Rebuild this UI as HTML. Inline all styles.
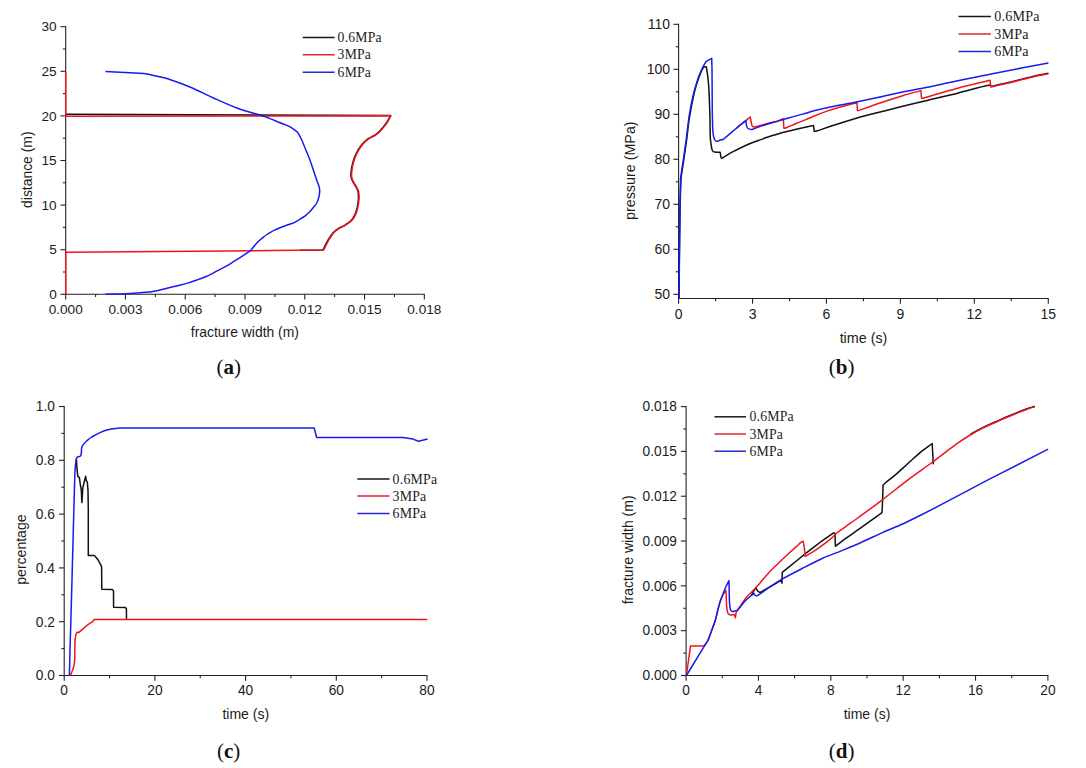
<!DOCTYPE html>
<html><head><meta charset="utf-8"><title>Figure</title>
<style>
html,body{margin:0;padding:0;background:#fff;}
body{width:1086px;height:768px;overflow:hidden;font-family:"Liberation Sans", sans-serif;}
svg{display:block;}
</style></head>
<body>
<svg width="1086" height="768" viewBox="0 0 1086 768">
<rect x="0" y="0" width="1086" height="768" fill="#ffffff"/>
<line x1="65.70" y1="294.30" x2="424.87" y2="294.30" stroke="#222222" stroke-width="1.1"/>
<line x1="65.70" y1="26.15" x2="65.70" y2="294.85" stroke="#222222" stroke-width="1.1"/>
<line x1="65.70" y1="294.30" x2="65.70" y2="299.50" stroke="#222222" stroke-width="1.1"/>
<line x1="125.47" y1="294.30" x2="125.47" y2="299.50" stroke="#222222" stroke-width="1.1"/>
<line x1="185.24" y1="294.30" x2="185.24" y2="299.50" stroke="#222222" stroke-width="1.1"/>
<line x1="245.01" y1="294.30" x2="245.01" y2="299.50" stroke="#222222" stroke-width="1.1"/>
<line x1="304.78" y1="294.30" x2="304.78" y2="299.50" stroke="#222222" stroke-width="1.1"/>
<line x1="364.55" y1="294.30" x2="364.55" y2="299.50" stroke="#222222" stroke-width="1.1"/>
<line x1="424.32" y1="294.30" x2="424.32" y2="299.50" stroke="#222222" stroke-width="1.1"/>
<line x1="95.59" y1="294.30" x2="95.59" y2="297.10" stroke="#222222" stroke-width="1.1"/>
<line x1="155.36" y1="294.30" x2="155.36" y2="297.10" stroke="#222222" stroke-width="1.1"/>
<line x1="215.12" y1="294.30" x2="215.12" y2="297.10" stroke="#222222" stroke-width="1.1"/>
<line x1="274.90" y1="294.30" x2="274.90" y2="297.10" stroke="#222222" stroke-width="1.1"/>
<line x1="334.67" y1="294.30" x2="334.67" y2="297.10" stroke="#222222" stroke-width="1.1"/>
<line x1="394.44" y1="294.30" x2="394.44" y2="297.10" stroke="#222222" stroke-width="1.1"/>
<line x1="60.50" y1="294.30" x2="65.70" y2="294.30" stroke="#222222" stroke-width="1.1"/>
<line x1="60.50" y1="249.70" x2="65.70" y2="249.70" stroke="#222222" stroke-width="1.1"/>
<line x1="60.50" y1="205.10" x2="65.70" y2="205.10" stroke="#222222" stroke-width="1.1"/>
<line x1="60.50" y1="160.50" x2="65.70" y2="160.50" stroke="#222222" stroke-width="1.1"/>
<line x1="60.50" y1="115.90" x2="65.70" y2="115.90" stroke="#222222" stroke-width="1.1"/>
<line x1="60.50" y1="71.30" x2="65.70" y2="71.30" stroke="#222222" stroke-width="1.1"/>
<line x1="60.50" y1="26.70" x2="65.70" y2="26.70" stroke="#222222" stroke-width="1.1"/>
<line x1="62.90" y1="272.00" x2="65.70" y2="272.00" stroke="#222222" stroke-width="1.1"/>
<line x1="62.90" y1="227.40" x2="65.70" y2="227.40" stroke="#222222" stroke-width="1.1"/>
<line x1="62.90" y1="182.80" x2="65.70" y2="182.80" stroke="#222222" stroke-width="1.1"/>
<line x1="62.90" y1="138.20" x2="65.70" y2="138.20" stroke="#222222" stroke-width="1.1"/>
<line x1="62.90" y1="93.60" x2="65.70" y2="93.60" stroke="#222222" stroke-width="1.1"/>
<line x1="62.90" y1="49.00" x2="65.70" y2="49.00" stroke="#222222" stroke-width="1.1"/>
<text x="65.70" y="313.80" font-family='"Liberation Sans", sans-serif' font-size="13.6" text-anchor="middle" fill="#1c1c1c" >0.000</text>
<text x="125.47" y="313.80" font-family='"Liberation Sans", sans-serif' font-size="13.6" text-anchor="middle" fill="#1c1c1c" >0.003</text>
<text x="185.24" y="313.80" font-family='"Liberation Sans", sans-serif' font-size="13.6" text-anchor="middle" fill="#1c1c1c" >0.006</text>
<text x="245.01" y="313.80" font-family='"Liberation Sans", sans-serif' font-size="13.6" text-anchor="middle" fill="#1c1c1c" >0.009</text>
<text x="304.78" y="313.80" font-family='"Liberation Sans", sans-serif' font-size="13.6" text-anchor="middle" fill="#1c1c1c" >0.012</text>
<text x="364.55" y="313.80" font-family='"Liberation Sans", sans-serif' font-size="13.6" text-anchor="middle" fill="#1c1c1c" >0.015</text>
<text x="424.32" y="313.80" font-family='"Liberation Sans", sans-serif' font-size="13.6" text-anchor="middle" fill="#1c1c1c" >0.018</text>
<text x="56.70" y="299.05" font-family='"Liberation Sans", sans-serif' font-size="13.6" text-anchor="end" fill="#1c1c1c" >0</text>
<text x="56.70" y="254.45" font-family='"Liberation Sans", sans-serif' font-size="13.6" text-anchor="end" fill="#1c1c1c" >5</text>
<text x="56.70" y="209.85" font-family='"Liberation Sans", sans-serif' font-size="13.6" text-anchor="end" fill="#1c1c1c" >10</text>
<text x="56.70" y="165.25" font-family='"Liberation Sans", sans-serif' font-size="13.6" text-anchor="end" fill="#1c1c1c" >15</text>
<text x="56.70" y="120.65" font-family='"Liberation Sans", sans-serif' font-size="13.6" text-anchor="end" fill="#1c1c1c" >20</text>
<text x="56.70" y="76.05" font-family='"Liberation Sans", sans-serif' font-size="13.6" text-anchor="end" fill="#1c1c1c" >25</text>
<text x="56.70" y="31.45" font-family='"Liberation Sans", sans-serif' font-size="13.6" text-anchor="end" fill="#1c1c1c" >30</text>
<text x="244.90" y="337.00" font-family='"Liberation Sans", sans-serif' font-size="13.9" text-anchor="middle" fill="#1c1c1c" >fracture width (m)</text>
<text x="31.90" y="169.70" font-family='"Liberation Sans", sans-serif' font-size="13.9" text-anchor="middle" fill="#1c1c1c" transform="rotate(-90 31.90 169.70)">distance (m)</text>
<path d="M65.7,114.2L390.6,115.6C389.1,118.1 387.9,120.8 386.2,123.2C384.3,125.9 382.2,128.3 380.0,130.7C378.5,132.3 376.8,133.8 374.9,135.1C372.5,136.8 369.5,137.6 367.2,139.4C364.9,141.2 362.8,143.4 361.0,145.7C359.0,148.2 357.4,151.0 356.0,153.9C354.7,156.7 353.6,159.6 352.8,162.6C352.0,165.5 351.4,168.4 351.1,171.4C350.9,173.5 350.8,175.6 351.2,177.6C351.6,179.4 352.6,181.1 353.4,182.7C354.3,184.4 355.4,185.8 356.3,187.5C357.0,188.8 357.7,190.1 358.0,191.5C358.4,193.9 358.5,196.4 358.4,198.8C358.3,201.8 357.9,204.7 357.2,207.6C356.6,210.2 355.8,212.7 354.7,215.1C353.7,217.1 352.5,219.1 350.9,220.7C349.1,222.5 346.8,223.9 344.6,225.3C342.4,226.6 339.9,227.4 337.8,228.8C335.9,230.0 334.2,231.5 332.7,233.2C331.0,235.1 329.7,237.3 328.4,239.5C326.4,242.9 324.8,246.4 323.0,249.9L300.0,250.2" fill="none" stroke="#111111" stroke-width="1.5" stroke-linejoin="round" stroke-linecap="butt"/>
<path d="M65.7,71.4L65.7,116.3L391.0,115.7C389.6,118.2 388.5,120.8 386.8,123.2C385.0,125.9 382.9,128.3 380.6,130.7C379.1,132.3 377.4,133.8 375.5,135.1C373.1,136.8 370.2,137.6 367.8,139.4C365.5,141.2 363.5,143.4 361.6,145.7C359.7,148.2 358.0,151.0 356.6,153.9C355.3,156.7 354.3,159.6 353.4,162.6C352.6,165.5 352.1,168.4 351.8,171.4C351.5,173.5 351.4,175.6 351.8,177.6C352.2,179.4 353.2,181.1 354.0,182.7C354.9,184.4 356.1,185.8 356.9,187.5C357.6,188.8 358.4,190.1 358.6,191.5C359.1,193.9 359.2,196.4 359.0,198.8C358.9,201.8 358.5,204.7 357.8,207.6C357.3,210.2 356.5,212.7 355.3,215.1C354.4,217.1 353.1,219.1 351.5,220.7C349.7,222.5 347.5,223.9 345.2,225.3C343.1,226.6 340.6,227.4 338.4,228.8C336.6,230.0 334.8,231.5 333.3,233.2C331.7,235.1 330.3,237.3 329.0,239.5C327.1,242.9 325.6,246.4 323.8,249.9L270.0,250.6L65.7,252.2L65.7,294.3" fill="none" stroke="#f0141e" stroke-width="1.5" stroke-linejoin="round" stroke-linecap="butt"/>
<path d="M105.4,71.4L144.1,73.4C148.4,74.3 152.7,75.2 157.0,76.2C161.5,77.3 166.0,78.3 170.4,79.7C177.2,81.9 183.9,84.4 190.5,87.2C198.1,90.4 205.4,94.3 213.0,97.7C221.3,101.4 229.6,105.2 238.1,108.5C242.0,110.0 246.0,111.0 250.0,112.2C253.7,113.3 257.4,114.1 261.0,115.3C264.0,116.3 267.0,117.4 270.0,118.6C273.4,119.9 276.7,121.4 280.1,122.8C283.4,124.2 286.9,125.1 290.0,126.8C292.8,128.3 295.1,130.5 297.7,132.3C298.9,134.5 300.2,136.7 301.3,139.0C302.7,141.9 303.8,145.0 305.0,148.0C306.3,151.0 307.6,154.0 308.8,157.0C310.0,160.0 311.0,163.0 312.0,166.0C313.0,169.0 314.0,172.1 315.0,175.1C315.8,177.6 316.7,180.0 317.6,182.5C318.1,184.0 318.8,185.5 319.2,187.0C319.5,188.3 319.7,189.7 319.7,191.0C319.7,192.3 319.5,193.7 319.3,195.0C319.0,196.5 318.7,198.0 318.2,199.5C317.7,200.9 317.1,202.2 316.4,203.5C315.7,204.8 314.7,205.9 313.8,207.0C312.6,208.5 311.4,210.1 310.0,211.5C308.5,213.0 306.9,214.5 305.2,215.8C303.2,217.3 301.1,218.5 299.0,219.8C296.9,221.0 294.9,222.3 292.7,223.3C290.5,224.2 288.2,224.7 286.0,225.5C284.0,226.2 282.0,226.9 280.1,227.7C278.4,228.4 276.7,229.1 275.0,229.9C273.5,230.6 272.0,231.4 270.5,232.3C269.0,233.1 267.6,234.0 266.2,235.0C264.7,236.0 263.4,237.2 262.0,238.3C260.5,239.6 258.9,240.8 257.5,242.3C255.0,245.0 252.8,247.9 250.5,250.7C247.0,253.0 243.5,255.4 240.0,257.7C237.0,259.6 234.0,261.5 231.0,263.3C228.2,265.0 225.4,266.6 222.5,268.2C219.5,269.8 216.5,271.4 213.5,272.9C210.7,274.3 207.9,275.8 205.0,277.0C202.1,278.2 199.0,279.2 196.0,280.3C193.2,281.3 190.4,282.3 187.5,283.1C184.5,284.0 181.5,284.7 178.5,285.5C175.7,286.2 172.8,286.8 170.0,287.5C166.7,288.3 163.3,289.1 160.0,289.9C156.9,290.6 153.8,291.2 150.7,291.9C146.1,292.3 141.6,292.7 137.0,293.0C133.1,293.3 129.2,293.6 125.3,293.7C118.7,294.0 112.0,294.0 105.4,294.2" fill="none" stroke="#1a1af0" stroke-width="1.5" stroke-linejoin="round" stroke-linecap="butt"/>
<line x1="302.70" y1="37.60" x2="334.60" y2="37.60" stroke="#1a1a1a" stroke-width="1.5"/>
<text x="337.60" y="42.20" font-family='"Liberation Serif", serif' font-size="13.7" text-anchor="start" fill="#1c1c1c" letter-spacing="0.2">0.6MPa</text>
<line x1="302.70" y1="54.80" x2="334.60" y2="54.80" stroke="#e0262f" stroke-width="1.5"/>
<text x="337.60" y="59.40" font-family='"Liberation Serif", serif' font-size="13.7" text-anchor="start" fill="#1c1c1c" letter-spacing="0.2">3MPa</text>
<line x1="302.70" y1="72.20" x2="334.60" y2="72.20" stroke="#2626dc" stroke-width="1.5"/>
<text x="337.60" y="76.80" font-family='"Liberation Serif", serif' font-size="13.7" text-anchor="start" fill="#1c1c1c" letter-spacing="0.2">6MPa</text>
<text x="228.70" y="373.90" font-family='"Liberation Serif", serif' font-size="21" text-anchor="middle" fill="#111">(<tspan font-weight="bold">a</tspan>)</text>
<line x1="678.60" y1="298.50" x2="1048.80" y2="298.50" stroke="#222222" stroke-width="1.1"/>
<line x1="678.60" y1="23.75" x2="678.60" y2="299.05" stroke="#222222" stroke-width="1.1"/>
<line x1="678.60" y1="298.50" x2="678.60" y2="303.70" stroke="#222222" stroke-width="1.1"/>
<line x1="752.53" y1="298.50" x2="752.53" y2="303.70" stroke="#222222" stroke-width="1.1"/>
<line x1="826.46" y1="298.50" x2="826.46" y2="303.70" stroke="#222222" stroke-width="1.1"/>
<line x1="900.39" y1="298.50" x2="900.39" y2="303.70" stroke="#222222" stroke-width="1.1"/>
<line x1="974.32" y1="298.50" x2="974.32" y2="303.70" stroke="#222222" stroke-width="1.1"/>
<line x1="1048.25" y1="298.50" x2="1048.25" y2="303.70" stroke="#222222" stroke-width="1.1"/>
<line x1="715.57" y1="298.50" x2="715.57" y2="301.30" stroke="#222222" stroke-width="1.1"/>
<line x1="789.50" y1="298.50" x2="789.50" y2="301.30" stroke="#222222" stroke-width="1.1"/>
<line x1="863.43" y1="298.50" x2="863.43" y2="301.30" stroke="#222222" stroke-width="1.1"/>
<line x1="937.36" y1="298.50" x2="937.36" y2="301.30" stroke="#222222" stroke-width="1.1"/>
<line x1="1011.29" y1="298.50" x2="1011.29" y2="301.30" stroke="#222222" stroke-width="1.1"/>
<line x1="673.40" y1="294.30" x2="678.60" y2="294.30" stroke="#222222" stroke-width="1.1"/>
<line x1="673.40" y1="249.30" x2="678.60" y2="249.30" stroke="#222222" stroke-width="1.1"/>
<line x1="673.40" y1="204.30" x2="678.60" y2="204.30" stroke="#222222" stroke-width="1.1"/>
<line x1="673.40" y1="159.30" x2="678.60" y2="159.30" stroke="#222222" stroke-width="1.1"/>
<line x1="673.40" y1="114.30" x2="678.60" y2="114.30" stroke="#222222" stroke-width="1.1"/>
<line x1="673.40" y1="69.30" x2="678.60" y2="69.30" stroke="#222222" stroke-width="1.1"/>
<line x1="673.40" y1="24.30" x2="678.60" y2="24.30" stroke="#222222" stroke-width="1.1"/>
<line x1="675.80" y1="271.80" x2="678.60" y2="271.80" stroke="#222222" stroke-width="1.1"/>
<line x1="675.80" y1="226.80" x2="678.60" y2="226.80" stroke="#222222" stroke-width="1.1"/>
<line x1="675.80" y1="181.80" x2="678.60" y2="181.80" stroke="#222222" stroke-width="1.1"/>
<line x1="675.80" y1="136.80" x2="678.60" y2="136.80" stroke="#222222" stroke-width="1.1"/>
<line x1="675.80" y1="91.80" x2="678.60" y2="91.80" stroke="#222222" stroke-width="1.1"/>
<line x1="675.80" y1="46.80" x2="678.60" y2="46.80" stroke="#222222" stroke-width="1.1"/>
<text x="678.60" y="318.80" font-family='"Liberation Sans", sans-serif' font-size="14.01" text-anchor="middle" fill="#1c1c1c" >0</text>
<text x="752.53" y="318.80" font-family='"Liberation Sans", sans-serif' font-size="14.01" text-anchor="middle" fill="#1c1c1c" >3</text>
<text x="826.46" y="318.80" font-family='"Liberation Sans", sans-serif' font-size="14.01" text-anchor="middle" fill="#1c1c1c" >6</text>
<text x="900.39" y="318.80" font-family='"Liberation Sans", sans-serif' font-size="14.01" text-anchor="middle" fill="#1c1c1c" >9</text>
<text x="974.32" y="318.80" font-family='"Liberation Sans", sans-serif' font-size="14.01" text-anchor="middle" fill="#1c1c1c" >12</text>
<text x="1048.25" y="318.80" font-family='"Liberation Sans", sans-serif' font-size="14.01" text-anchor="middle" fill="#1c1c1c" >15</text>
<text x="670.00" y="298.59" font-family='"Liberation Sans", sans-serif' font-size="14.01" text-anchor="end" fill="#1c1c1c" >50</text>
<text x="670.00" y="253.59" font-family='"Liberation Sans", sans-serif' font-size="14.01" text-anchor="end" fill="#1c1c1c" >60</text>
<text x="670.00" y="208.59" font-family='"Liberation Sans", sans-serif' font-size="14.01" text-anchor="end" fill="#1c1c1c" >70</text>
<text x="670.00" y="163.59" font-family='"Liberation Sans", sans-serif' font-size="14.01" text-anchor="end" fill="#1c1c1c" >80</text>
<text x="670.00" y="118.59" font-family='"Liberation Sans", sans-serif' font-size="14.01" text-anchor="end" fill="#1c1c1c" >90</text>
<text x="670.00" y="73.59" font-family='"Liberation Sans", sans-serif' font-size="14.01" text-anchor="end" fill="#1c1c1c" >100</text>
<text x="670.00" y="28.59" font-family='"Liberation Sans", sans-serif' font-size="14.01" text-anchor="end" fill="#1c1c1c" >110</text>
<text x="863.50" y="343.00" font-family='"Liberation Sans", sans-serif' font-size="14.32" text-anchor="middle" fill="#1c1c1c" >time (s)</text>
<text x="634.80" y="170.70" font-family='"Liberation Sans", sans-serif' font-size="14.32" text-anchor="middle" fill="#1c1c1c" transform="rotate(-90 634.80 170.70)">pressure (MPa)</text>
<path d="M679.0,298.5C679.1,285.7 679.2,272.8 679.3,260.0C679.5,245.3 679.7,230.7 679.9,216.0C680.0,209.0 680.2,202.0 680.4,195.0C680.6,189.4 680.8,183.7 681.0,178.1C682.0,171.7 683.0,165.4 683.9,159.0C684.9,152.5 685.8,146.0 686.7,139.5C687.6,132.5 688.2,125.5 689.3,118.5C690.7,109.8 692.3,101.2 694.3,92.6C695.6,87.1 697.4,81.6 699.3,76.3C700.4,73.2 701.6,70.0 703.5,67.4C704.1,66.6 705.4,67.0 706.3,66.8C706.7,69.5 707.3,72.3 707.6,75.0C708.1,79.2 708.6,83.4 708.8,87.6C709.3,95.9 709.6,104.3 709.8,112.6C710.1,121.0 710.0,129.3 710.3,137.7C710.4,139.5 710.6,141.2 710.9,143.0C711.2,145.1 711.4,147.3 712.0,149.4C712.2,150.2 712.5,151.2 713.2,151.7C714.0,152.2 715.1,152.0 716.0,152.2L720.1,152.3C720.3,153.2 720.4,154.1 720.6,155.0C720.8,155.9 720.8,156.8 721.1,157.6C721.3,158.0 721.7,158.1 722.0,158.4C723.7,157.3 725.3,156.2 727.0,155.2C728.8,154.1 730.7,152.9 732.6,151.9C736.7,149.7 740.9,147.6 745.1,145.7C749.2,143.9 753.5,142.3 757.7,140.7C761.8,139.2 766.0,137.7 770.2,136.3C774.3,134.9 778.5,133.7 782.7,132.5C786.8,131.4 791.0,130.4 795.2,129.4C799.7,128.3 804.3,127.3 808.8,126.4C810.4,126.1 811.9,125.9 813.5,125.6L814.2,131.2L815.7,131.3C823.8,128.6 831.9,125.8 840.1,123.2C848.4,120.6 856.7,118.0 865.1,115.7C873.4,113.4 881.8,111.6 890.2,109.5C898.5,107.4 906.9,105.3 915.2,103.2C918.8,102.3 922.4,101.5 926.0,100.7C936.5,98.2 947.1,95.8 957.6,93.2C968.4,90.6 979.1,87.1 990.1,85.1C990.8,85.0 990.7,86.4 991.0,87.0" fill="none" stroke="#111111" stroke-width="1.5" stroke-linejoin="round" stroke-linecap="butt"/>
<path d="M991.0,86.5C996.6,85.2 1002.1,84.0 1007.7,82.7C1016.0,80.7 1024.3,78.4 1032.7,76.5C1037.9,75.3 1043.2,74.4 1048.4,73.3" fill="none" stroke="#111111" stroke-width="1.5" stroke-linejoin="round" stroke-linecap="butt"/>
<path d="M736.0,128.6C737.4,127.4 738.7,126.2 740.1,125.1C742.0,123.6 743.9,122.1 745.8,120.6C747.3,119.4 748.7,118.2 750.2,117.0C750.5,118.7 750.8,120.3 751.2,122.0C751.5,123.4 751.6,124.9 752.2,126.2C752.5,126.7 753.2,126.7 753.7,127.0C755.0,126.8 756.4,126.6 757.7,126.3C761.9,125.2 766.0,123.9 770.2,122.8C771.8,122.4 773.4,122.0 775.0,121.6L776.0,121.9L783.3,118.8L783.9,128.2L785.0,128.2C788.3,126.8 791.7,125.4 795.0,124.0C798.7,122.5 802.4,121.1 806.0,119.6C809.0,118.3 812.0,116.9 815.0,115.7C819.2,114.0 823.4,112.4 827.6,110.9C831.7,109.5 835.9,108.2 840.1,107.0C844.2,105.8 848.4,104.9 852.6,103.8C854.1,103.4 855.5,103.0 857.0,102.6L857.4,110.5L858.6,110.6C865.0,108.3 871.3,106.0 877.7,103.8C886.0,101.0 894.3,98.3 902.7,95.7C908.7,93.9 914.8,92.3 920.9,90.6L921.5,98.2L923.0,98.2C934.5,94.9 946.0,91.3 957.6,88.2C968.4,85.3 979.3,82.9 990.1,80.3L990.8,87.0C996.4,85.7 1002.1,84.5 1007.7,83.2C1016.1,81.2 1024.3,78.9 1032.7,77.0C1037.9,75.8 1043.2,74.9 1048.4,73.8" fill="none" stroke="#f0141e" stroke-width="1.5" stroke-linejoin="round" stroke-linecap="butt"/>
<path d="M679.1,298.5C679.2,285.7 679.3,272.8 679.4,260.0C679.5,245.3 679.7,230.7 679.9,216.0C680.0,209.0 680.1,202.0 680.2,195.0C680.3,189.4 680.5,183.7 680.6,178.1C681.1,174.9 681.5,171.7 682.0,168.5C682.5,165.3 682.9,162.2 683.4,159.0C683.8,156.0 684.3,153.0 684.7,150.0C685.2,146.5 685.7,143.0 686.2,139.5C687.1,132.5 687.8,125.5 688.8,118.5C689.5,113.6 690.4,108.8 691.3,104.0C692.0,100.2 692.9,96.4 693.8,92.6C694.5,89.7 695.4,86.9 696.3,84.0C697.1,81.4 697.9,78.8 698.8,76.3C699.5,74.5 700.2,72.8 701.0,71.0C701.7,69.4 702.4,67.8 703.2,66.3C704.1,64.6 705.3,63.0 706.3,61.3L711.7,58.4L712.0,68.8L712.3,112.6C712.4,117.7 712.5,122.9 712.7,128.0C712.8,130.4 713.0,132.8 713.3,135.2C713.5,136.3 713.8,137.4 714.2,138.5C714.4,139.1 714.7,139.7 715.1,140.2C715.6,140.7 716.3,141.4 717.0,141.4C717.9,141.4 718.6,140.5 719.5,140.2C720.3,139.9 721.2,139.8 722.0,139.6L722.8,139.8C726.1,137.0 729.3,134.2 732.6,131.4C735.1,129.3 737.6,127.2 740.1,125.1C742.0,123.6 743.9,122.1 745.8,120.6C746.0,122.1 746.1,123.6 746.4,125.1C746.6,125.9 746.8,126.8 747.2,127.5C747.5,128.0 748.0,128.6 748.6,128.8C749.7,129.2 750.9,129.7 752.0,129.5C754.0,129.1 755.8,127.9 757.7,127.2C761.8,125.8 766.0,124.6 770.2,123.3C774.6,122.0 778.9,120.8 783.3,119.5C787.3,118.4 791.2,117.2 795.2,116.1C798.8,115.1 802.4,114.2 806.0,113.2C809.0,112.4 812.0,111.3 815.0,110.6C823.3,108.6 831.7,106.8 840.1,105.1C845.5,104.0 851.0,103.1 856.4,102.0C863.5,100.6 870.6,99.1 877.7,97.6C886.1,95.8 894.3,93.6 902.7,91.9C910.4,90.3 918.3,89.2 926.0,87.6C936.6,85.4 947.0,82.9 957.6,80.7C970.1,78.1 982.6,75.7 995.1,73.2C1012.9,69.7 1030.6,66.3 1048.4,62.9" fill="none" stroke="#1a1af0" stroke-width="1.5" stroke-linejoin="round" stroke-linecap="butt"/>
<line x1="958.50" y1="16.60" x2="990.90" y2="16.60" stroke="#1a1a1a" stroke-width="1.5"/>
<text x="994.20" y="21.34" font-family='"Liberation Serif", serif' font-size="14.11" text-anchor="start" fill="#1c1c1c" letter-spacing="0.2">0.6MPa</text>
<line x1="958.50" y1="33.90" x2="990.90" y2="33.90" stroke="#e0262f" stroke-width="1.5"/>
<text x="994.20" y="38.64" font-family='"Liberation Serif", serif' font-size="14.11" text-anchor="start" fill="#1c1c1c" letter-spacing="0.2">3MPa</text>
<line x1="958.50" y1="51.60" x2="990.90" y2="51.60" stroke="#2626dc" stroke-width="1.5"/>
<text x="994.20" y="56.34" font-family='"Liberation Serif", serif' font-size="14.11" text-anchor="start" fill="#1c1c1c" letter-spacing="0.2">6MPa</text>
<text x="841.70" y="373.90" font-family='"Liberation Serif", serif' font-size="21" text-anchor="middle" fill="#111">(<tspan font-weight="bold">b</tspan>)</text>
<line x1="64.20" y1="675.50" x2="427.55" y2="675.50" stroke="#222222" stroke-width="1.1"/>
<line x1="64.20" y1="405.95" x2="64.20" y2="676.05" stroke="#222222" stroke-width="1.1"/>
<line x1="64.20" y1="675.50" x2="64.20" y2="680.70" stroke="#222222" stroke-width="1.1"/>
<line x1="154.90" y1="675.50" x2="154.90" y2="680.70" stroke="#222222" stroke-width="1.1"/>
<line x1="245.60" y1="675.50" x2="245.60" y2="680.70" stroke="#222222" stroke-width="1.1"/>
<line x1="336.30" y1="675.50" x2="336.30" y2="680.70" stroke="#222222" stroke-width="1.1"/>
<line x1="427.00" y1="675.50" x2="427.00" y2="680.70" stroke="#222222" stroke-width="1.1"/>
<line x1="109.55" y1="675.50" x2="109.55" y2="678.30" stroke="#222222" stroke-width="1.1"/>
<line x1="200.25" y1="675.50" x2="200.25" y2="678.30" stroke="#222222" stroke-width="1.1"/>
<line x1="290.95" y1="675.50" x2="290.95" y2="678.30" stroke="#222222" stroke-width="1.1"/>
<line x1="381.65" y1="675.50" x2="381.65" y2="678.30" stroke="#222222" stroke-width="1.1"/>
<line x1="59.00" y1="675.50" x2="64.20" y2="675.50" stroke="#222222" stroke-width="1.1"/>
<line x1="59.00" y1="621.70" x2="64.20" y2="621.70" stroke="#222222" stroke-width="1.1"/>
<line x1="59.00" y1="567.90" x2="64.20" y2="567.90" stroke="#222222" stroke-width="1.1"/>
<line x1="59.00" y1="514.10" x2="64.20" y2="514.10" stroke="#222222" stroke-width="1.1"/>
<line x1="59.00" y1="460.30" x2="64.20" y2="460.30" stroke="#222222" stroke-width="1.1"/>
<line x1="59.00" y1="406.50" x2="64.20" y2="406.50" stroke="#222222" stroke-width="1.1"/>
<line x1="61.40" y1="648.60" x2="64.20" y2="648.60" stroke="#222222" stroke-width="1.1"/>
<line x1="61.40" y1="594.80" x2="64.20" y2="594.80" stroke="#222222" stroke-width="1.1"/>
<line x1="61.40" y1="541.00" x2="64.20" y2="541.00" stroke="#222222" stroke-width="1.1"/>
<line x1="61.40" y1="487.20" x2="64.20" y2="487.20" stroke="#222222" stroke-width="1.1"/>
<line x1="61.40" y1="433.40" x2="64.20" y2="433.40" stroke="#222222" stroke-width="1.1"/>
<text x="64.20" y="695.00" font-family='"Liberation Sans", sans-serif' font-size="13.75" text-anchor="middle" fill="#1c1c1c" >0</text>
<text x="154.90" y="695.00" font-family='"Liberation Sans", sans-serif' font-size="13.75" text-anchor="middle" fill="#1c1c1c" >20</text>
<text x="245.60" y="695.00" font-family='"Liberation Sans", sans-serif' font-size="13.75" text-anchor="middle" fill="#1c1c1c" >40</text>
<text x="336.30" y="695.00" font-family='"Liberation Sans", sans-serif' font-size="13.75" text-anchor="middle" fill="#1c1c1c" >60</text>
<text x="427.00" y="695.00" font-family='"Liberation Sans", sans-serif' font-size="13.75" text-anchor="middle" fill="#1c1c1c" >80</text>
<text x="54.90" y="680.30" font-family='"Liberation Sans", sans-serif' font-size="13.75" text-anchor="end" fill="#1c1c1c" >0.0</text>
<text x="54.90" y="626.50" font-family='"Liberation Sans", sans-serif' font-size="13.75" text-anchor="end" fill="#1c1c1c" >0.2</text>
<text x="54.90" y="572.70" font-family='"Liberation Sans", sans-serif' font-size="13.75" text-anchor="end" fill="#1c1c1c" >0.4</text>
<text x="54.90" y="518.90" font-family='"Liberation Sans", sans-serif' font-size="13.75" text-anchor="end" fill="#1c1c1c" >0.6</text>
<text x="54.90" y="465.10" font-family='"Liberation Sans", sans-serif' font-size="13.75" text-anchor="end" fill="#1c1c1c" >0.8</text>
<text x="54.90" y="411.30" font-family='"Liberation Sans", sans-serif' font-size="13.75" text-anchor="end" fill="#1c1c1c" >1.0</text>
<text x="245.80" y="719.20" font-family='"Liberation Sans", sans-serif' font-size="14.05" text-anchor="middle" fill="#1c1c1c" >time (s)</text>
<text x="26.20" y="549.60" font-family='"Liberation Sans", sans-serif' font-size="14.05" text-anchor="middle" fill="#1c1c1c" transform="rotate(-90 26.20 549.60)">percentage</text>
<path d="M76.4,458.8L76.9,467.6L77.8,476.3L79.4,477.6L80.4,485.1L81.3,490.1L81.9,502.6L82.8,487.6L84.4,481.3L85.7,476.3L86.3,480.7L87.3,482.0L88.0,490.1L88.3,510.0L88.3,555.4L94.4,555.4C95.7,557.0 97.1,558.4 98.2,560.1C99.5,562.2 100.5,564.6 101.6,566.9L101.8,589.2L112.0,589.4L113.5,590.7L113.6,607.3L125.1,607.4L126.4,608.6L126.5,619.5" fill="none" stroke="#111111" stroke-width="1.5" stroke-linejoin="round" stroke-linecap="butt"/>
<path d="M69.4,675.5L70.6,675.3C71.7,672.3 73.0,669.5 73.8,666.4C74.4,664.0 74.6,661.4 74.7,658.9C75.0,653.0 74.7,647.2 75.0,641.3C75.1,639.0 75.5,636.7 76.0,634.4C76.2,633.7 76.6,633.0 76.9,632.3L78.8,632.6C80.5,631.1 82.1,629.6 83.8,628.2C85.9,626.5 87.9,624.8 90.1,623.2C90.9,622.7 91.8,622.3 92.6,621.9L94.1,619.5L427.4,619.5" fill="none" stroke="#f0141e" stroke-width="1.5" stroke-linejoin="round" stroke-linecap="butt"/>
<path d="M69.4,675.5C69.6,667.0 69.8,658.5 70.0,650.0C70.2,642.0 70.5,634.0 70.7,626.0C71.1,610.7 71.5,595.4 72.0,580.1C72.2,570.1 72.5,560.0 72.8,550.0C73.0,543.3 73.2,536.7 73.3,530.0C73.7,516.7 74.0,503.4 74.4,490.1C74.6,483.8 74.7,477.6 75.0,471.3C75.1,468.5 75.4,465.8 75.7,463.0C75.9,461.5 76.0,460.0 76.4,458.6C76.6,458.0 77.1,457.5 77.5,457.0C78.3,456.8 79.2,456.7 80.0,456.3C80.4,456.1 80.8,455.7 80.9,455.3C81.2,454.2 81.3,453.1 81.4,452.0C81.5,450.6 81.4,449.2 81.7,447.8C82.0,446.7 82.6,445.6 83.2,444.6C83.8,443.7 84.6,443.0 85.4,442.2C86.1,441.5 86.8,440.8 87.6,440.1C88.7,439.2 89.8,438.3 91.0,437.5C92.3,436.6 93.7,435.9 95.1,435.1C96.7,434.2 98.3,433.4 100.0,432.6C101.7,431.8 103.3,431.0 105.1,430.5C107.2,429.9 109.3,429.5 111.4,429.1C113.9,428.6 116.4,428.4 118.9,428.0L314.2,428.0L316.6,437.4L402.9,437.4L413.0,439.1L418.5,441.2L427.6,439.0" fill="none" stroke="#1a1af0" stroke-width="1.5" stroke-linejoin="round" stroke-linecap="butt"/>
<line x1="357.30" y1="479.00" x2="389.60" y2="479.00" stroke="#1a1a1a" stroke-width="1.5"/>
<text x="392.60" y="483.65" font-family='"Liberation Serif", serif' font-size="13.85" text-anchor="start" fill="#1c1c1c" letter-spacing="0.2">0.6MPa</text>
<line x1="357.30" y1="496.10" x2="389.60" y2="496.10" stroke="#e0262f" stroke-width="1.5"/>
<text x="392.60" y="500.75" font-family='"Liberation Serif", serif' font-size="13.85" text-anchor="start" fill="#1c1c1c" letter-spacing="0.2">3MPa</text>
<line x1="357.30" y1="513.50" x2="389.60" y2="513.50" stroke="#2626dc" stroke-width="1.5"/>
<text x="392.60" y="518.15" font-family='"Liberation Serif", serif' font-size="13.85" text-anchor="start" fill="#1c1c1c" letter-spacing="0.2">6MPa</text>
<text x="228.70" y="757.70" font-family='"Liberation Serif", serif' font-size="21" text-anchor="middle" fill="#111">(<tspan font-weight="bold">c</tspan>)</text>
<line x1="686.10" y1="675.50" x2="1048.45" y2="675.50" stroke="#222222" stroke-width="1.1"/>
<line x1="686.10" y1="406.03" x2="686.10" y2="676.05" stroke="#222222" stroke-width="1.1"/>
<line x1="686.10" y1="675.50" x2="686.10" y2="680.70" stroke="#222222" stroke-width="1.1"/>
<line x1="758.46" y1="675.50" x2="758.46" y2="680.70" stroke="#222222" stroke-width="1.1"/>
<line x1="830.82" y1="675.50" x2="830.82" y2="680.70" stroke="#222222" stroke-width="1.1"/>
<line x1="903.18" y1="675.50" x2="903.18" y2="680.70" stroke="#222222" stroke-width="1.1"/>
<line x1="975.54" y1="675.50" x2="975.54" y2="680.70" stroke="#222222" stroke-width="1.1"/>
<line x1="1047.90" y1="675.50" x2="1047.90" y2="680.70" stroke="#222222" stroke-width="1.1"/>
<line x1="722.28" y1="675.50" x2="722.28" y2="678.30" stroke="#222222" stroke-width="1.1"/>
<line x1="794.64" y1="675.50" x2="794.64" y2="678.30" stroke="#222222" stroke-width="1.1"/>
<line x1="867.00" y1="675.50" x2="867.00" y2="678.30" stroke="#222222" stroke-width="1.1"/>
<line x1="939.36" y1="675.50" x2="939.36" y2="678.30" stroke="#222222" stroke-width="1.1"/>
<line x1="1011.72" y1="675.50" x2="1011.72" y2="678.30" stroke="#222222" stroke-width="1.1"/>
<line x1="680.90" y1="675.50" x2="686.10" y2="675.50" stroke="#222222" stroke-width="1.1"/>
<line x1="680.90" y1="630.68" x2="686.10" y2="630.68" stroke="#222222" stroke-width="1.1"/>
<line x1="680.90" y1="585.86" x2="686.10" y2="585.86" stroke="#222222" stroke-width="1.1"/>
<line x1="680.90" y1="541.04" x2="686.10" y2="541.04" stroke="#222222" stroke-width="1.1"/>
<line x1="680.90" y1="496.22" x2="686.10" y2="496.22" stroke="#222222" stroke-width="1.1"/>
<line x1="680.90" y1="451.40" x2="686.10" y2="451.40" stroke="#222222" stroke-width="1.1"/>
<line x1="680.90" y1="406.58" x2="686.10" y2="406.58" stroke="#222222" stroke-width="1.1"/>
<line x1="683.30" y1="653.09" x2="686.10" y2="653.09" stroke="#222222" stroke-width="1.1"/>
<line x1="683.30" y1="608.27" x2="686.10" y2="608.27" stroke="#222222" stroke-width="1.1"/>
<line x1="683.30" y1="563.45" x2="686.10" y2="563.45" stroke="#222222" stroke-width="1.1"/>
<line x1="683.30" y1="518.63" x2="686.10" y2="518.63" stroke="#222222" stroke-width="1.1"/>
<line x1="683.30" y1="473.81" x2="686.10" y2="473.81" stroke="#222222" stroke-width="1.1"/>
<line x1="683.30" y1="428.99" x2="686.10" y2="428.99" stroke="#222222" stroke-width="1.1"/>
<text x="686.10" y="695.00" font-family='"Liberation Sans", sans-serif' font-size="13.71" text-anchor="middle" fill="#1c1c1c" >0</text>
<text x="758.46" y="695.00" font-family='"Liberation Sans", sans-serif' font-size="13.71" text-anchor="middle" fill="#1c1c1c" >4</text>
<text x="830.82" y="695.00" font-family='"Liberation Sans", sans-serif' font-size="13.71" text-anchor="middle" fill="#1c1c1c" >8</text>
<text x="903.18" y="695.00" font-family='"Liberation Sans", sans-serif' font-size="13.71" text-anchor="middle" fill="#1c1c1c" >12</text>
<text x="975.54" y="695.00" font-family='"Liberation Sans", sans-serif' font-size="13.71" text-anchor="middle" fill="#1c1c1c" >16</text>
<text x="1047.90" y="695.00" font-family='"Liberation Sans", sans-serif' font-size="13.71" text-anchor="middle" fill="#1c1c1c" >20</text>
<text x="676.90" y="680.29" font-family='"Liberation Sans", sans-serif' font-size="13.71" text-anchor="end" fill="#1c1c1c" >0.000</text>
<text x="676.90" y="635.47" font-family='"Liberation Sans", sans-serif' font-size="13.71" text-anchor="end" fill="#1c1c1c" >0.003</text>
<text x="676.90" y="590.65" font-family='"Liberation Sans", sans-serif' font-size="13.71" text-anchor="end" fill="#1c1c1c" >0.006</text>
<text x="676.90" y="545.83" font-family='"Liberation Sans", sans-serif' font-size="13.71" text-anchor="end" fill="#1c1c1c" >0.009</text>
<text x="676.90" y="501.01" font-family='"Liberation Sans", sans-serif' font-size="13.71" text-anchor="end" fill="#1c1c1c" >0.012</text>
<text x="676.90" y="456.19" font-family='"Liberation Sans", sans-serif' font-size="13.71" text-anchor="end" fill="#1c1c1c" >0.015</text>
<text x="676.90" y="411.37" font-family='"Liberation Sans", sans-serif' font-size="13.71" text-anchor="end" fill="#1c1c1c" >0.018</text>
<text x="867.00" y="719.20" font-family='"Liberation Sans", sans-serif' font-size="14.01" text-anchor="middle" fill="#1c1c1c" >time (s)</text>
<text x="633.00" y="549.90" font-family='"Liberation Sans", sans-serif' font-size="14.01" text-anchor="middle" fill="#1c1c1c" transform="rotate(-90 633.00 549.90)">fracture width (m)</text>
<path d="M751.1,595.7L755.8,587.6C756.4,588.7 756.9,589.9 757.6,590.9C757.9,591.4 758.5,591.7 759.0,592.0C759.4,592.2 759.9,592.2 760.4,592.3C763.6,590.5 766.8,588.7 769.9,586.9C773.9,584.6 777.8,582.2 781.7,579.8L781.9,583.2L782.3,572.3C787.0,568.5 791.7,564.8 796.4,561.0C799.2,558.7 802.0,556.4 804.8,554.1C808.1,551.5 811.4,548.9 814.8,546.3C817.9,544.0 821.0,541.7 824.2,539.4C827.3,537.2 830.5,535.0 833.6,532.8L835.0,533.4L835.4,546.3C839.0,543.6 842.5,540.8 846.1,538.2C850.2,535.2 854.5,532.4 858.6,529.4C866.4,523.8 874.2,518.2 882.0,512.6L882.6,500.0L883.1,485.1C883.7,484.5 884.3,483.8 885.0,483.2C888.3,480.4 891.7,477.9 895.0,475.1C899.3,471.4 903.4,467.6 907.6,463.8C911.8,460.1 915.8,456.2 920.1,452.6C924.0,449.4 928.2,446.5 932.2,443.5L932.8,455.0L933.2,463.8L933.6,461.2" fill="none" stroke="#111111" stroke-width="1.5" stroke-linejoin="round" stroke-linecap="butt"/>
<path d="M970.2,434.5C974.4,432.2 978.4,429.7 982.7,427.6C986.8,425.6 991.0,423.9 995.2,422.0C1000.0,419.9 1004.7,417.7 1009.5,415.7C1015.3,413.3 1021.1,411.0 1027.0,408.8C1029.6,407.8 1032.2,407.1 1034.8,406.3" fill="none" stroke="#111111" stroke-width="1.5" stroke-linejoin="round" stroke-linecap="butt"/>
<path d="M686.4,675.5L690.5,645.9L703.8,645.9L705.4,644.4L707.9,640.7C709.4,636.7 710.9,632.8 712.3,628.8C713.4,625.9 714.5,623.0 715.4,620.0C717.0,614.2 718.1,608.3 719.8,602.6C720.6,599.8 721.7,597.2 723.0,594.6C723.8,593.1 724.9,591.8 725.9,590.4C726.1,593.6 726.2,596.8 726.4,600.0C726.5,602.5 726.5,605.1 726.8,607.6C727.0,609.6 727.2,611.6 728.0,613.4C728.3,614.1 729.1,614.7 729.9,614.8C731.3,615.1 732.8,614.6 734.2,614.5L735.4,617.8L736.1,612.6C736.9,611.3 737.8,610.1 738.6,608.8C741.1,605.1 743.3,601.2 746.1,597.8C749.1,594.1 752.8,591.1 756.0,587.6C760.2,583.0 764.0,578.0 768.2,573.4C771.2,570.1 774.4,567.1 777.6,564.0C780.7,561.0 783.8,558.0 787.0,555.0C790.0,552.3 793.0,549.6 796.0,546.9C797.9,545.2 799.6,543.4 801.6,541.9C802.0,541.6 802.7,541.6 803.2,541.4C803.6,543.7 804.1,545.9 804.4,548.2C804.7,550.8 804.7,553.4 804.8,556.0L805.5,556.3C808.6,554.4 811.8,552.7 814.8,550.7C819.1,547.8 823.2,544.7 827.3,541.6C829.5,539.9 831.6,538.2 833.6,536.3C834.5,535.5 835.1,534.3 836.1,533.5C839.3,530.9 842.8,528.7 846.1,526.3C850.0,523.5 853.9,520.8 857.7,518.0C866.1,511.9 874.5,505.9 882.7,499.6C891.1,493.2 899.2,486.4 907.6,480.1C915.8,473.9 924.3,468.1 932.6,462.0C941.0,455.8 949.2,449.3 957.7,443.2C961.7,440.3 965.9,437.6 970.2,435.0C974.3,432.5 978.4,430.2 982.7,428.1C986.8,426.1 991.0,424.4 995.2,422.5C1000.0,420.4 1004.7,418.2 1009.5,416.2C1015.3,413.8 1021.1,411.5 1027.0,409.3C1029.6,408.3 1032.2,407.6 1034.8,406.8" fill="none" stroke="#f0141e" stroke-width="1.5" stroke-linejoin="round" stroke-linecap="butt"/>
<path d="M686.4,675.5L705.4,644.4L707.9,640.7C709.4,636.7 710.9,632.8 712.3,628.8C713.4,625.9 714.5,623.0 715.4,620.0C717.0,614.2 718.1,608.3 719.8,602.6C720.7,599.7 721.9,596.9 723.0,594.0C724.0,591.4 725.0,588.8 726.1,586.3C727.0,584.4 728.0,582.6 729.0,580.7L729.2,591.3C729.3,595.5 729.3,599.6 729.6,603.8C729.7,605.8 729.8,607.9 730.5,609.8C730.8,610.6 731.6,611.2 732.4,611.5C733.1,611.7 733.8,611.4 734.5,611.2C735.5,610.9 736.6,610.7 737.4,610.0C740.2,607.4 742.3,604.1 744.9,601.3C746.8,599.3 749.0,597.5 751.1,595.7C752.0,594.9 753.0,594.1 754.0,593.3C754.2,593.9 754.2,594.6 754.7,595.0C755.3,595.5 756.1,595.8 756.8,595.7C757.7,595.6 758.5,594.9 759.3,594.4C762.9,592.0 766.3,589.3 769.9,586.9C773.9,584.2 777.8,581.6 782.0,579.2C788.3,575.6 794.8,572.3 801.3,569.0C808.0,565.5 814.7,561.8 821.6,558.7C828.2,555.7 835.1,553.4 841.8,550.6C848.6,547.8 855.4,545.0 862.1,542.0C868.9,539.0 875.7,535.6 882.5,532.6C889.2,529.6 896.0,527.0 902.6,524.0C908.5,521.3 914.2,518.4 920.0,515.5C926.5,512.3 932.9,509.0 939.3,505.6C956.0,496.9 972.6,487.9 989.4,479.2C1008.9,469.1 1028.5,459.2 1048.1,449.2" fill="none" stroke="#1a1af0" stroke-width="1.5" stroke-linejoin="round" stroke-linecap="butt"/>
<line x1="714.50" y1="416.80" x2="746.00" y2="416.80" stroke="#1a1a1a" stroke-width="1.5"/>
<text x="749.40" y="421.44" font-family='"Liberation Serif", serif' font-size="13.81" text-anchor="start" fill="#1c1c1c" letter-spacing="0.2">0.6MPa</text>
<line x1="714.50" y1="434.00" x2="746.00" y2="434.00" stroke="#e0262f" stroke-width="1.5"/>
<text x="749.40" y="438.64" font-family='"Liberation Serif", serif' font-size="13.81" text-anchor="start" fill="#1c1c1c" letter-spacing="0.2">3MPa</text>
<line x1="714.50" y1="451.20" x2="746.00" y2="451.20" stroke="#2626dc" stroke-width="1.5"/>
<text x="749.40" y="455.84" font-family='"Liberation Serif", serif' font-size="13.81" text-anchor="start" fill="#1c1c1c" letter-spacing="0.2">6MPa</text>
<text x="841.70" y="757.70" font-family='"Liberation Serif", serif' font-size="21" text-anchor="middle" fill="#111">(<tspan font-weight="bold">d</tspan>)</text>
</svg>
</body></html>
